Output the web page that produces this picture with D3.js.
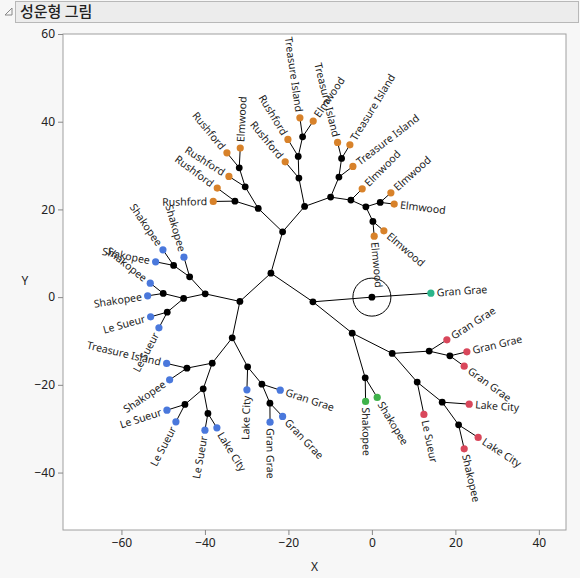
<!DOCTYPE html>
<html><head><meta charset="utf-8">
<script src="https://cdn.jsdelivr.net/npm/d3@7"></script>
<style>
body{margin:0;background:#fff;font-family:"Segoe UI","Noto Sans","Noto Sans CJK KR",sans-serif;}
</style></head>
<body><svg id="c" width="580" height="578"></svg>
<script>
// internal (joint) nodes: name, x, y, parent
const jointNames = ['C0','A','B','C','D','E','F','G','H','I','J','L','M','K','N','P','O','Q','R','S',
  'T','V','X','W','Y','Z','U','AA','AC','AD','AE','AF','AB','AG','AH','AI','AJ','AK','AL','AN','AM','AO','AP'];
const jointX = [0,-14.13,-24.19,-21.39,-31.62,-27.23,-16.12,-32.81,-30.35,-31.78,-17.49,-17.65,-16.60,-9.89,-7.90,-7.26,-5.03,-1.44,1.99,0.24,
  -39.93,-43.66,-47.50,-45.10,-49.99,-49.03,-33.46,-38.25,-44.31,-40.41,-44.79,-39.28,-29.77,-26.35,-24.43,-4.72,-1.60,4.86,13.72,18.68,10.85,16.84,20.77];
const jointY = [0,-1.07,5.47,14.89,-0.98,20.23,20.68,21.89,25.15,29.49,27.14,32.09,36.56,22.81,27.37,31.63,22.12,20.59,21.60,17.26,
  0.75,4.63,7.23,-0.30,0.84,-3.42,-9.28,-15.05,-16.19,-20.91,-24.47,-26.52,-15.90,-19.84,-24.17,-8.21,-18.40,-12.84,-12.31,-13.39,-19.38,-23.95,-29.12];
const jointParent = [null,'C0','A','B','B','C','C','E','E','H','F','J','L','F','K','N','K','O','Q','Q',
  'D','T','V','T','W','W','D','U','AA','AA','AD','AD','U','AB','AG','A','AI','AI','AK','AL','AK','AM','AO'];

// leaves
const leafLabels = ['Gran Grae','Rushford','Rushford','Rushford','Rushford','Elmwood','Rushford','Rushford','Treasure Island','Elmwood',
  'Treasure Island','Treasure Island','Treasure Island','Elmwood','Elmwood','Elmwood','Elmwood','Elmwood',
  'Shakopee','Shakopee','Shakopee','Shakopee','Shakopee','Le Sueur','Le Sueur','Treasure Island','Shakopee','Le Sueur','Le Sueur','Le Sueur','Lake City',
  'Lake City','Gran Grae','Gran Grae','Gran Grae','Shakopee','Shakopee',
  'Gran Grae','Gran Grae','Gran Grae','Le Sueur','Lake City','Lake City','Shakopee'];
const leafX = [14.13,-38.01,-37.05,-34.25,-34.73,-31.54,-20.77,-20.12,-17.25,-14.06,
  -4.55,-8.22,-5.27,-2.32,4.55,5.34,0.55,2.87,
  -45.03,-51.81,-50.06,-53.10,-53.72,-53.01,-51.02,-49.17,-48.46,-49.10,-46.95,-40.00,-37.13,
  -29.94,-21.96,-24.40,-21.39,-1.51,1.27,
  17.96,22.75,22.11,12.46,23.31,25.46,22.11];
const leafY = [0.91,21.82,24.86,27.53,32.91,33.98,30.85,35.96,40.89,40.14,
  29.81,35.28,34.73,24.70,23.79,21.21,13.91,15.12,
  9.12,8.05,10.79,3.19,0.30,-4.49,-7.00,-15.12,-18.86,-25.77,-28.44,-30.33,-29.81,
  -21.14,-21.21,-28.51,-27.21,-23.79,-22.87,
  -9.74,-12.47,-15.74,-26.75,-24.40,-32.00,-34.59];
const leafParent = ['C0','G','G','H','I','I','J','L','M','M',
  'N','P','P','O','R','R','S','S',
  'V','X','X','Y','Y','Z','Z','AC','AC','AE','AE','AF','AF',
  'AB','AG','AH','AH','AJ','AJ',
  'AL','AN','AN','AM','AO','AP','AP'];
const leafGroup = [0,1,1,1,1,1,1,1,1,1, 1,1,1,1,1,1,1,1,
  2,2,2,2,2,2,2,2,2,2,2,2,2, 2,2,2,2,3,3, 4,4,4,4,4,4,4];
const groupColors = ['#2bb58a','#d8822a','#4a78dc','#3fb24a','#d9475b'];

const xTicks = [-60,-40,-20,0,20,40];
const yTicks = [-40,-20,0,20,40,60];

const svg = d3.select('#c');
// panel background + title bar
svg.append('rect').attr('x',0).attr('y',0).attr('width',580).attr('height',578).attr('fill','#f7f7f7');
svg.append('rect').attr('x',15.5).attr('y',1.5).attr('width',563).attr('height',21).attr('fill','#ececec').attr('stroke','#b8b8b8');
svg.append('path').attr('d','M5,15 L12,8 L12,15 Z').attr('fill','none').attr('stroke','#888');
svg.append('text').attr('x',20).attr('y',17).attr('font-size',15).attr('font-weight',500).attr('fill','#222')
  .attr('font-family','"Noto Sans CJK KR",sans-serif').text('성운형 그림');

const L = 63, R = 566, T = 34, B = 530;
const x = d3.scaleLinear().domain([-74.0,46.5]).range([L,R]);
const y = d3.scaleLinear().domain([-53.1,60]).range([B,T]);

svg.append('rect').attr('x',L).attr('y',T).attr('width',R-L).attr('height',B-T).attr('fill','#fff').attr('stroke','#a0a0a0');

const gx = svg.append('g').attr('transform',`translate(0,${B})`).call(d3.axisBottom(x).tickValues(xTicks).tickSize(5).tickSizeOuter(0));
const gy = svg.append('g').attr('transform',`translate(${L},0)`).call(d3.axisLeft(y).tickValues(yTicks).tickSize(5).tickSizeOuter(0));
[gx,gy].forEach(g=>{
  g.select('.domain').remove();
  g.selectAll('line').attr('stroke','#888');
  g.selectAll('text').attr('font-size',12).attr('fill','#222').attr('font-family','"Segoe UI","Noto Sans",sans-serif');
});
svg.append('text').attr('x',(L+R)/2).attr('y',571).attr('text-anchor','middle').attr('font-size',12).attr('fill','#222').text('X');
svg.append('text').attr('x',25).attr('y',(T+B)/2+3).attr('text-anchor','middle').attr('font-size',12).attr('fill','#222').text('Y');

const pos = {};
jointNames.forEach((n,i)=>pos[n]=[jointX[i],jointY[i]]);

const g = svg.append('g');
// edges
jointNames.forEach((n,i)=>{
  const p = jointParent[i]; if(!p) return;
  g.append('line').attr('x1',x(pos[p][0])).attr('y1',y(pos[p][1])).attr('x2',x(jointX[i])).attr('y2',y(jointY[i]))
    .attr('stroke','#000').attr('stroke-width',1);
});
leafX.forEach((v,i)=>{
  const p = pos[leafParent[i]];
  g.append('line').attr('x1',x(p[0])).attr('y1',y(p[1])).attr('x2',x(v)).attr('y2',y(leafY[i]))
    .attr('stroke','#000').attr('stroke-width',1);
});
// root circle
g.append('circle').attr('cx',x(0)).attr('cy',y(0)).attr('r',19).attr('fill','none').attr('stroke','#000');
// joints
g.selectAll('.j').data(jointNames).join('circle').attr('cx',(d,i)=>x(jointX[i])).attr('cy',(d,i)=>y(jointY[i]))
  .attr('r',3.4).attr('fill','#000');
// leaves + labels
leafX.forEach((v,i)=>{
  const p = pos[leafParent[i]];
  const px = x(v), py = y(leafY[i]);
  g.append('circle').attr('cx',px).attr('cy',py).attr('r',3.6).attr('fill',groupColors[leafGroup[i]]);
  let ang = Math.atan2(py - y(p[1]), px - x(p[0])) * 180 / Math.PI;
  const flip = ang > 90.5 || ang < -89.5;
  const rot = flip ? ang + 180 : ang;
  g.append('text').attr('transform',`translate(${px},${py}) rotate(${rot})`)
    .attr('x', flip ? -6 : 6).attr('dy','0.35em').attr('text-anchor', flip ? 'end' : 'start')
    .attr('font-size',10.5).attr('fill','#222').text(leafLabels[i]);
});
</script></body></html>
